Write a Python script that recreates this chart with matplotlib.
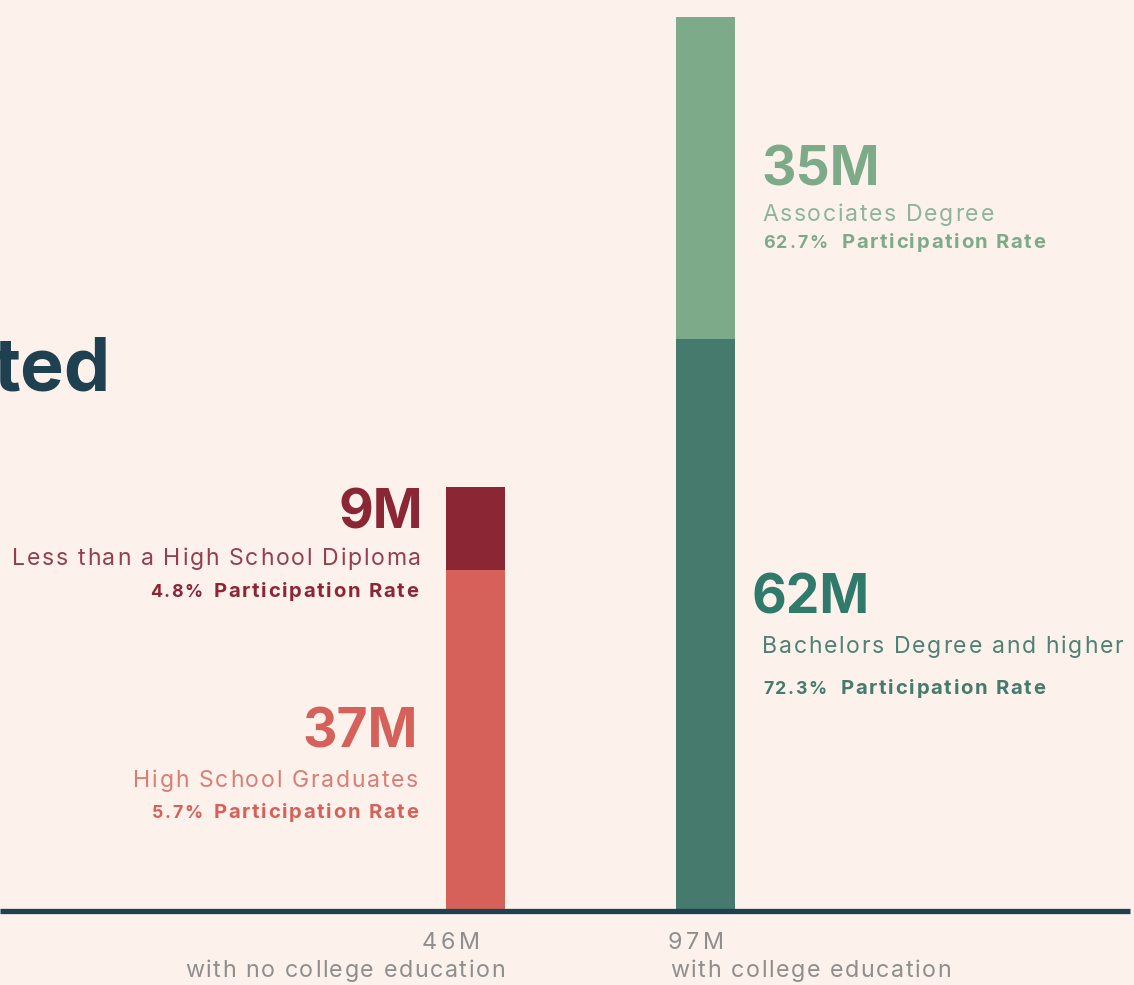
import matplotlib
matplotlib.use("Agg")
import matplotlib.pyplot as plt
from matplotlib.font_manager import FontProperties

# ---------------- data ----------------
group_names = ["with no college education", "with college education"]
group_totals = ["46M", "97M"]
lower_labels = ["High School Graduates", "Bachelors Degree and higher"]
lower_values = [37, 62]
lower_value_text = ["37M", "62M"]
lower_rates = ["5.7%", "72.3%"]
upper_labels = ["Less than a High School Diploma", "Associates Degree"]
upper_values = [9, 35]
upper_value_text = ["9M", "35M"]
upper_rates = ["4.8%", "62.7%"]
rate_word = "Participation Rate"
title_fragment = "ted"

# ---------------- style ----------------
BG = "#FCF1EB"
NAVY = "#1F4050"
GRAY = "#8E8E8E"
lower_colors = ["#D6605A", "#457A6C"]
upper_colors = ["#8B2635", "#7DAB8A"]
lower_big = ["#D6605A", "#2F7A6A"]
upper_big = ["#8B2635", "#7DAB8A"]
lower_desc = ["#D97E77", "#4F8174"]
upper_desc = ["#93404D", "#8DB59B"]
lower_rate_c = ["#D6605A", "#457A6C"]
upper_rate_c = ["#8B2635", "#7DAB8A"]

FONT = ["Inter", "DejaVu Sans"]

W, H = 1134, 985
fig = plt.figure(figsize=(W / 100, H / 100), dpi=100, facecolor=BG)
ax = fig.add_axes([0, 0, 1, 1])
ax.set_facecolor(BG)
ax.axis("off")

PX_X = 230.0   # pixels per category unit
X0 = 475.5     # pixel of first category
PX_Y = 9.22    # pixels per million
Y0 = 74.0      # pixels from bottom of the baseline
ax.set_xlim(-X0 / PX_X, (W - X0) / PX_X)
ax.set_ylim(-Y0 / PX_Y, (H - Y0) / PX_Y)

xs = list(range(len(group_names)))
bw = 59 / PX_X
ax.bar(xs, lower_values, width=bw, color=lower_colors, zorder=2)
ax.bar(xs, upper_values, bottom=lower_values, width=bw, color=upper_colors, zorder=2)
ax.axhline(0, xmin=0, xmax=1130 / W, lw=3.8, color=NAVY, zorder=3,
           solid_capstyle="butt")

fig.canvas.draw()
renderer = fig.canvas.get_renderer()


def put(text, xy, off, ha, size, color, weight="normal"):
    return ax.annotate(text, xy=xy, xytext=off, textcoords="offset pixels",
                       ha=ha, va="baseline", fontsize=size, color=color,
                       fontweight=weight, family=FONT, zorder=4)


def text_w(s, fp):
    w, h, d = renderer.get_text_width_height_descent(s, fp, ismath=False)
    return w


def tracked(text, xy, off, ha, size, color, weight="normal", track=0.0):
    """Draw letter-spaced text; returns (left, right) offsets in pixels."""
    fp = FontProperties(family=FONT, size=size, weight=weight)
    bar = text_w("|", fp)
    starts = [0.0] + [text_w(text[:k] + "|", fp) - bar for k in range(1, len(text))]
    total = text_w(text, fp) + track * (len(text) - 1)
    left = off[0] - total if ha == "right" else off[0]
    for k, ch in enumerate(text):
        if ch == " ":
            continue
        put(ch, xy, (left + starts[k] + k * track, off[1]), "left", size, color, weight)
    return left, left + total


RATE_SIZE = 14.6
PCT_SIZE = 12.8
RATE_TRACK = 1.7


def rate_line(pct, xy, off, side, color, gap):
    if side == "left":
        l, r = tracked(rate_word, xy, off, "right", RATE_SIZE, color, "bold", RATE_TRACK)
        tracked(pct, xy, (l - gap, off[1]), "right", PCT_SIZE, color, "bold", RATE_TRACK)
    else:
        l, r = tracked(pct, xy, off, "left", PCT_SIZE, color, "bold", RATE_TRACK)
        tracked(rate_word, xy, (r + gap, off[1]), "left", RATE_SIZE, color, "bold", RATE_TRACK)


BIG = 38.5
DESC = 16.6
DESC_TRACK = 1.7
BOT = 16.8
BOT_TRACK = 1.6
TOT_TRACK = 3.5

for i in xs:
    left_edge = i - bw / 2
    right_edge = i + bw / 2
    lo_mid = lower_values[i] / 2
    up_mid = lower_values[i] + upper_values[i] / 2
    if i == 0:
        put(upper_value_text[i], (left_edge, up_mid), (-23, 0), "right", BIG, upper_big[i], "bold")
        tracked(upper_labels[i], (left_edge, up_mid), (-25, -37), "right", DESC, upper_desc[i], track=DESC_TRACK)
        rate_line(upper_rates[i], (left_edge, up_mid), (-28, -69), "left", upper_rate_c[i], 11)
        put(lower_value_text[i], (left_edge, lo_mid), (-28, -7), "right", BIG, lower_big[i], "bold")
        tracked(lower_labels[i], (left_edge, lo_mid), (-28, -47), "right", DESC, lower_desc[i], track=DESC_TRACK)
        rate_line(lower_rates[i], (left_edge, lo_mid), (-28, -78), "left", lower_rate_c[i], 11)
        tracked(group_totals[i], (left_edge, 0), (-24, -38), "left", BOT, GRAY, track=TOT_TRACK)
        tracked(group_names[i], (right_edge, 0), (0, -66), "right", BOT, GRAY, track=BOT_TRACK)
    else:
        put(upper_value_text[i], (right_edge, up_mid), (26, -7), "left", BIG, upper_big[i], "bold")
        tracked(upper_labels[i], (right_edge, up_mid), (27, -43), "left", DESC, upper_desc[i], track=DESC_TRACK)
        rate_line(upper_rates[i], (right_edge, up_mid), (28, -70), "right", upper_rate_c[i], 14)
        put(lower_value_text[i], (right_edge, lo_mid), (17, 12), "left", BIG, lower_big[i], "bold")
        tracked(lower_labels[i], (right_edge, lo_mid), (27, -28), "left", DESC, lower_desc[i], track=DESC_TRACK)
        rate_line(lower_rates[i], (right_edge, lo_mid), (28, -69), "right", lower_rate_c[i], 14)
        tracked(group_totals[i], (left_edge, 0), (-8, -38), "left", BOT, GRAY, track=TOT_TRACK)
        tracked(group_names[i], (left_edge, 0), (-6, -66), "left", BOT, GRAY, track=BOT_TRACK)

fig.text(110 / W, 1 - 391 / H, title_fragment, ha="right", va="baseline",
         fontsize=53, fontweight="bold", color=NAVY, family=FONT)

fig.savefig("out.png", dpi=100, facecolor=BG)
